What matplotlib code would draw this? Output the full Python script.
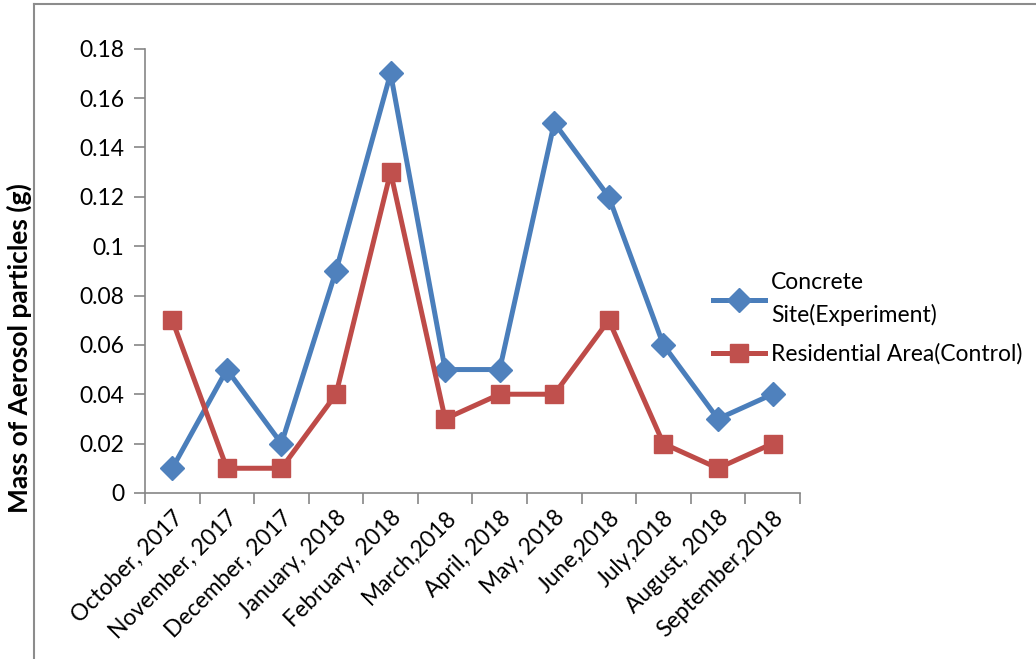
import matplotlib.pyplot as plt
from matplotlib.lines import Line2D

months = ["October, 2017", "November, 2017", "December, 2017", "January, 2018",
          "February, 2018", "March,2018", "April, 2018", "May, 2018",
          "June,2018", "July,2018", "August, 2018", "September,2018"]
concrete = [0.01, 0.05, 0.02, 0.09, 0.17, 0.05, 0.05, 0.15, 0.12, 0.06, 0.03, 0.04]
residential = [0.07, 0.01, 0.01, 0.04, 0.13, 0.03, 0.04, 0.04, 0.07, 0.02, 0.01, 0.02]
yticks = [0, 0.02, 0.04, 0.06, 0.08, 0.1, 0.12, 0.14, 0.16, 0.18]
ytick_labels = ["0", "0.02", "0.04", "0.06", "0.08", "0.1", "0.12", "0.14", "0.16", "0.18"]

plt.rcParams['font.family'] = ['Lato', 'DejaVu Sans']
axis_grey = '#868686'

fig = plt.figure(figsize=(10.36, 6.59), dpi=100)
ax = fig.add_axes([0.140, 0.252, 0.632, 0.674])

x = list(range(len(months)))
ax.plot(x, concrete, color='#4A7EBB', lw=3.6, marker='D', ms=12.5,
        markerfacecolor='#4F81BD', markeredgecolor='#4F81BD',
        label='Concrete\nSite(Experiment)')
ax.plot(x, residential, color='#BE4B48', lw=3.6, marker='s', ms=13,
        markerfacecolor='#C0504D', markeredgecolor='#C0504D',
        label='Residential Area(Control)')

ax.set_xlim(-0.5, len(months) - 0.5)
ax.set_ylim(0, 0.18)
ax.set_yticks(yticks)
ax.set_yticklabels(ytick_labels, fontsize=16.5)

# category ticks sit on the boundaries, labels under the centres
ax.set_xticks([i - 0.5 for i in range(len(months) + 1)])
ax.set_xticklabels([])
ax.set_xticks(x, minor=True)
ax.set_xticklabels(months, minor=True, rotation=45, ha='right', va='top',
                   rotation_mode='anchor', fontsize=16.5)
ax.tick_params(axis='x', which='minor', length=0, pad=10)
ax.tick_params(axis='x', which='major', length=8, width=1.2, color=axis_grey)
ax.tick_params(axis='y', length=8, width=1.2, color=axis_grey, pad=7)

for side in ['top', 'right']:
    ax.spines[side].set_visible(False)
for side in ['left', 'bottom']:
    ax.spines[side].set_color(axis_grey)
    ax.spines[side].set_linewidth(1.2)

fig.text(0.019, 1 - 348 / 659, 'Mass of Aerosol particles (g)', rotation=90,
         ha='center', va='center', fontsize=19, fontweight='bold')

leg = ax.legend(loc='upper left', bbox_to_anchor=(0.668, 0.618), frameon=False,
                fontsize=16.5, handlelength=2.3, handletextpad=0.25,
                labelspacing=0.75, bbox_transform=fig.transFigure)
for t in leg.get_texts():
    t.set_linespacing(1.6)

# chart frame, only left and top edges show
fig.add_artist(Line2D([33.5 / 1036, 33.5 / 1036], [0, 1 - 3.5 / 659],
                      transform=fig.transFigure, color='#8c8c8c', lw=1.5))
fig.add_artist(Line2D([33.5 / 1036, 1], [1 - 3.5 / 659, 1 - 3.5 / 659],
                      transform=fig.transFigure, color='#8c8c8c', lw=1.5))

fig.savefig('out.png', dpi=100)
